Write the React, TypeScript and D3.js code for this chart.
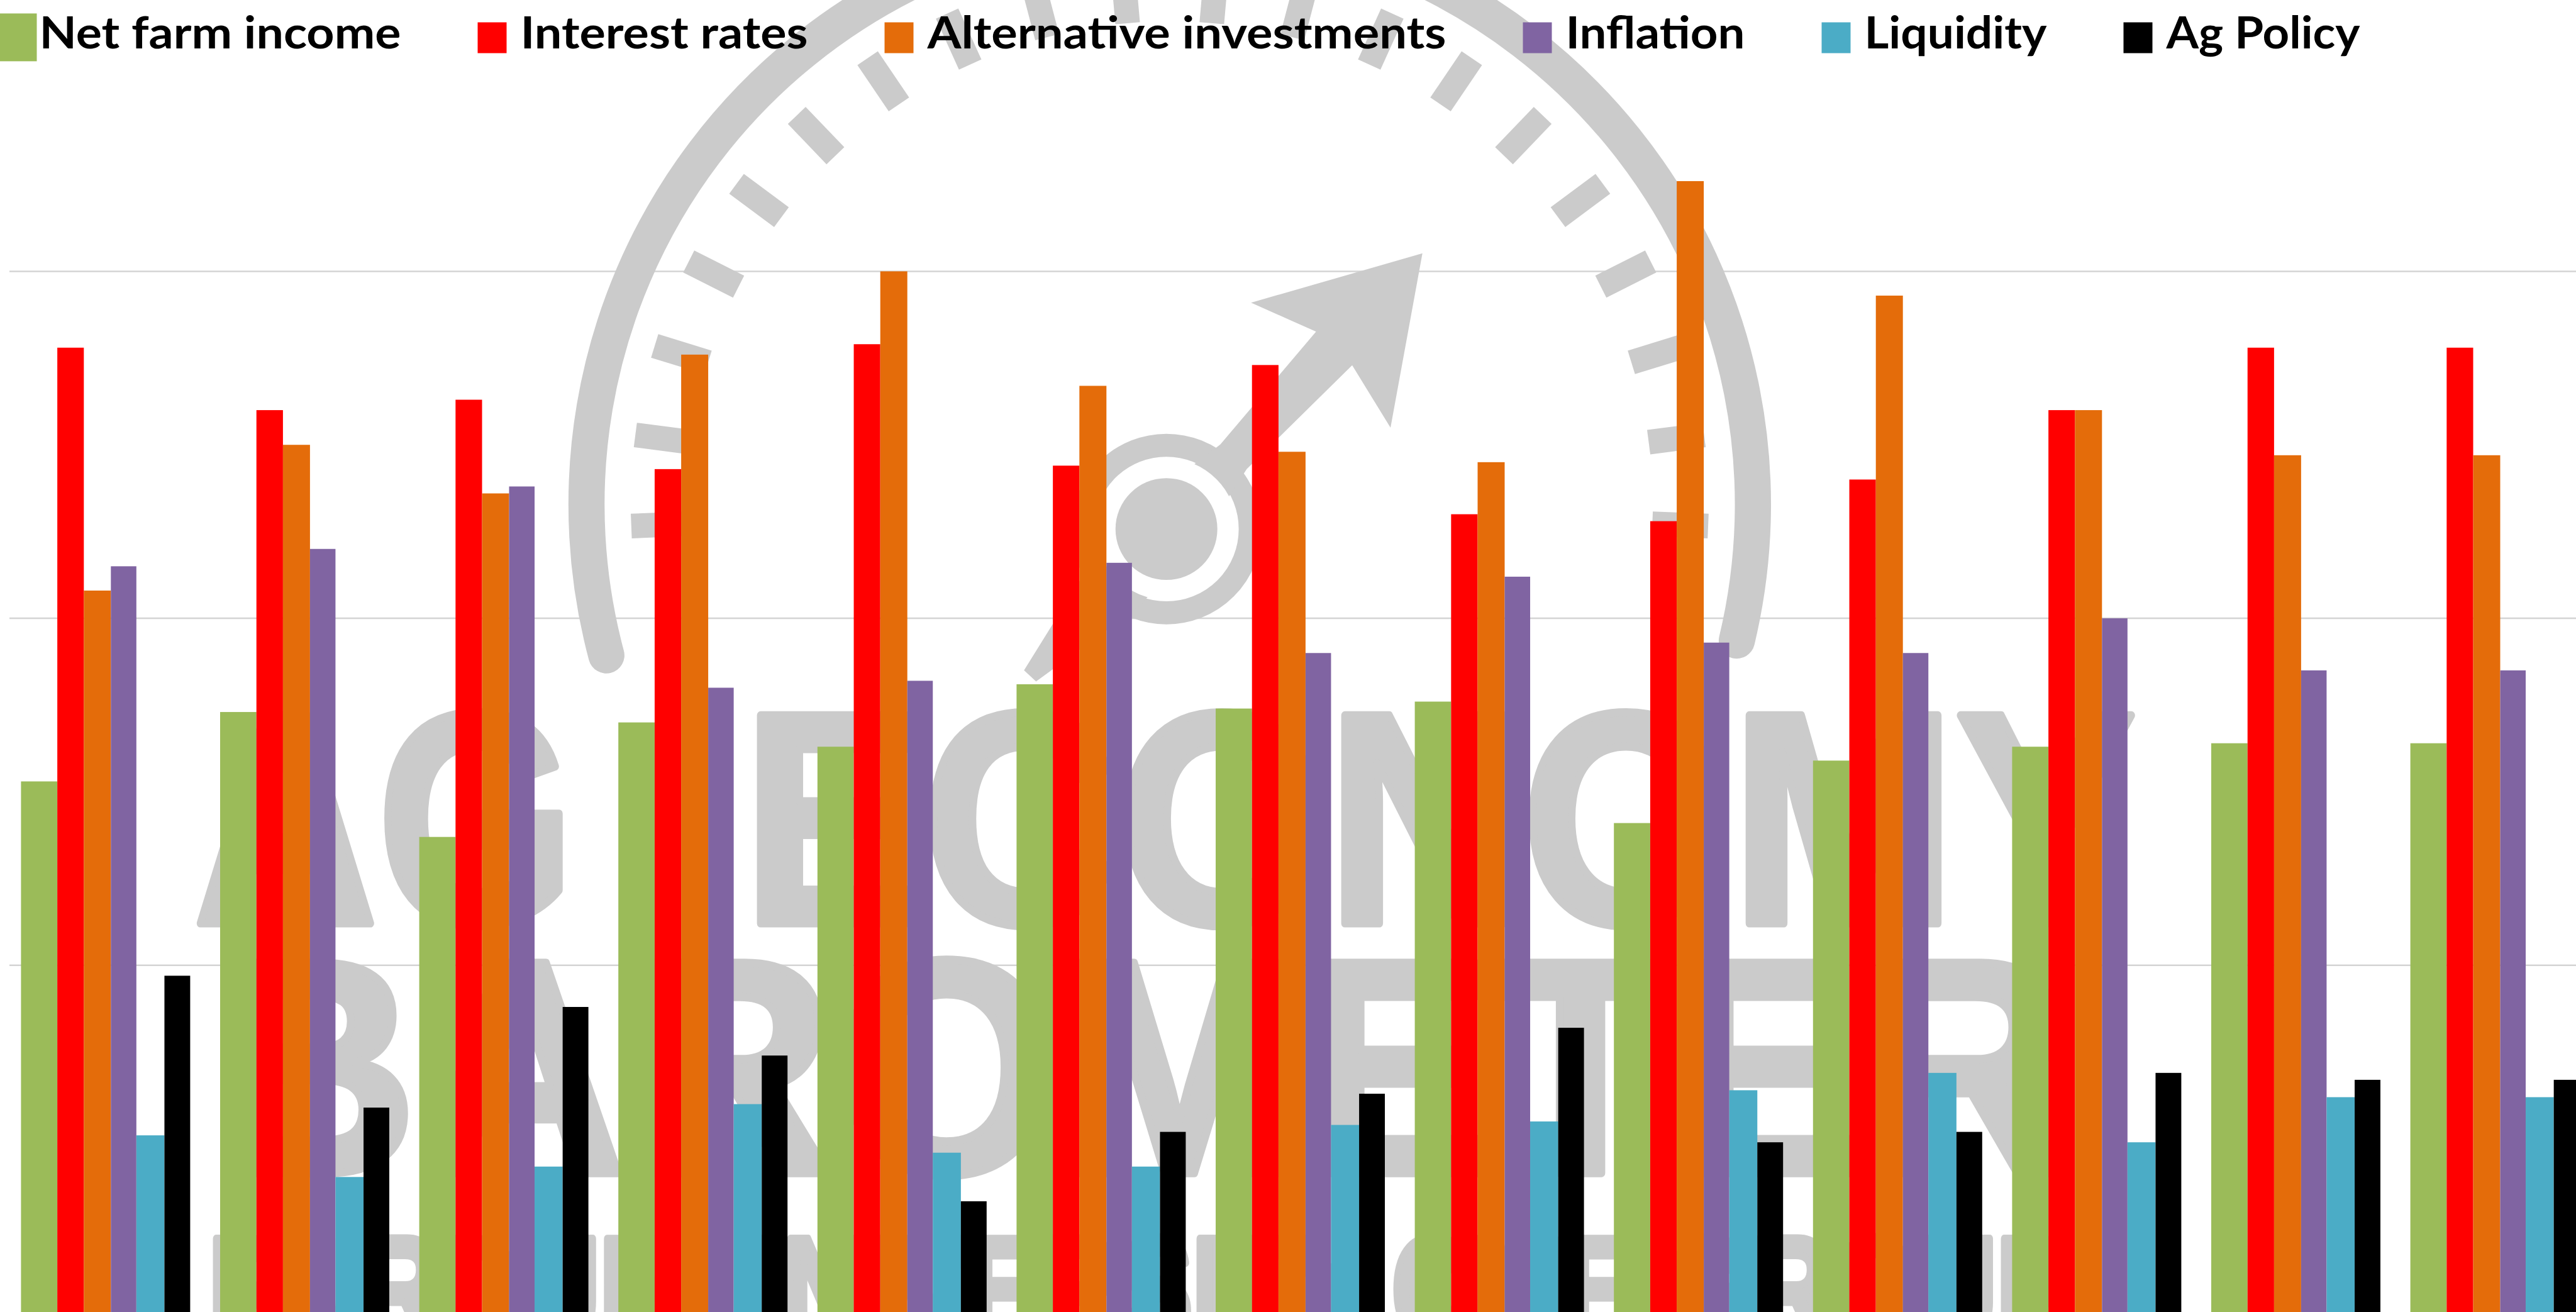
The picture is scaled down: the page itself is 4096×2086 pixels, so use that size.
import React from 'react';
import * as d3 from 'd3';

// Survey rounds along the category axis (the chart leaves them unlabelled)
const surveys = ['1', '2', '3', '4', '5', '6', '7', '8', '9', '10', '11', '12', '13'];

const seriesNames = [
  'Net farm income',
  'Interest rates',
  'Alternative investments',
  'Inflation',
  'Liquidity',
  'Ag Policy',
];

// Share of respondents (%) naming each factor
const netFarmIncome = [15.3, 17.3, 13.7, 17.0, 16.3, 18.1, 17.4, 17.6, 14.1, 15.9, 16.3, 16.4, 16.4];
const interestRates = [27.8, 26.0, 26.3, 24.3, 27.9, 24.4, 27.3, 23.0, 22.8, 24.0, 26.0, 27.8, 27.8];
const alternativeInvestments = [20.8, 25.0, 23.6, 27.6, 30.0, 26.7, 24.8, 24.5, 32.6, 29.3, 26.0, 24.7, 24.7];
const inflation = [21.5, 22.0, 23.8, 18.0, 18.2, 21.6, 19.0, 21.2, 19.3, 19.0, 20.0, 18.5, 18.5];
const liquidity = [5.1, 3.9, 4.2, 6.0, 4.6, 4.2, 5.4, 5.5, 6.4, 6.9, 4.9, 6.2, 6.2];
const agPolicy = [9.7, 5.9, 8.8, 7.4, 3.2, 5.2, 6.3, 8.2, 4.9, 5.2, 6.9, 6.7, 6.7];

const gridValues = [10, 20, 30];

// ---- styling / layout ----
const W = 4096;
const H = 2086;
const COLORS = ['#9BBB59', '#FF0000', '#E46C0A', '#8064A2', '#4BACC6', '#000000'];
const BAR_WEIGHTS = [1.41, 1.03, 1.05, 0.99, 1.09, 1.0];
const LEGEND_TEXT_WIDTHS = [575, 457, 825, 285, 290, 308];
const WM = '#cbcbcb';

function Watermark() {
  // logo drawn in a 1568-wide frame, scaled up to the page
  const k = W / 1568;
  const cx = 712;
  const cy = 307;
  const ring = d3.path();
  ring.arc(cx, cy, 355, (165 * Math.PI) / 180, (373.5 * Math.PI) / 180, false);

  const tickAngles: number[] = [];
  for (let i = 0; i < 10; i++) {
    tickAngles.push(5 + 9.7 * i);
    tickAngles.push(-(5 + 9.7 * i));
  }

  const hubX = 710;
  const hubY = 322;
  const needleAngle = (Math.atan2(154 - hubY, 866 - hubX) * 180) / Math.PI;
  const needle = [
    [229, 0],
    [136, -56],
    [150, -15],
    [60, -11],
    [20, -18],
    [-45, -20],
    [-122, -5],
    [-122, 5],
    [-45, 20],
    [20, 18],
    [60, 11],
    [150, 15],
    [138, 58],
  ]
    .map((p) => p.join(','))
    .join(' ');

  return (
    <g transform={`scale(${k})`} fill={WM}>
      <path d={ring.toString()} fill="none" stroke={WM} strokeWidth={22} strokeLinecap="round" />
      {tickAngles.map((a, i) => {
        const r = (a * Math.PI) / 180;
        const s = Math.sin(r);
        const c = Math.cos(r);
        return (
          <line
            key={i}
            x1={cx + 294 * s}
            y1={cy - 294 * c}
            x2={cx + 328 * s}
            y2={cy - 328 * c}
            stroke={WM}
            strokeWidth={15}
          />
        );
      })}
      <circle cx={hubX} cy={hubY} r={51} fill="none" stroke={WM} strokeWidth={14} />
      <polygon points={needle} transform={`translate(${hubX},${hubY}) rotate(${needleAngle})`} />
      <circle cx={hubX} cy={hubY} r={43} fill="#ffffff" />
      <circle cx={hubX} cy={hubY} r={31} />
      <g
        fontFamily="'Liberation Sans', Arial, sans-serif"
        fontWeight="bold"
        stroke={WM}
        strokeWidth={5}
        strokeLinejoin="round"
      >
        <text x={118} y={562} fontSize={184} textLength={232} lengthAdjust="spacingAndGlyphs">AG</text>
        <text x={452} y={562} fontSize={184} textLength={848} lengthAdjust="spacingAndGlyphs">ECONOMY</text>
        <text x={127} y={714} fontSize={186} textLength={1133} lengthAdjust="spacingAndGlyphs">BAROMETER</text>
        <text x={127} y={816} fontSize={90} textLength={1133} lengthAdjust="spacingAndGlyphs">PURDUE UNIVERSITY  CME GROUP</text>
      </g>
    </g>
  );
}

export default function App() {
  const seriesValues = [netFarmIncome, interestRates, alternativeInvestments, inflation, liquidity, agPolicy];

  const baseY = 2086.5;
  const y = d3.scaleLinear().domain([0, 10]).range([baseY, baseY - 551.7]);

  const groupStep = 316.6;
  const groupGap = 47.6;
  const left = 33.4;
  const x0 = d3
    .scaleBand<string>()
    .domain(surveys)
    .range([left, left + surveys.length * groupStep - groupGap])
    .paddingInner(groupGap / groupStep)
    .paddingOuter(0);

  const cum = BAR_WEIGHTS.reduce<number[]>((acc, w) => {
    acc.push(acc[acc.length - 1] + w);
    return acc;
  }, [0]);
  const inner = d3.scaleLinear().domain([0, cum[cum.length - 1]]).range([0, x0.bandwidth()]);

  // legend layout
  const legendGap = 190;
  const textStarts: number[] = [];
  let tx = 62.5;
  LEGEND_TEXT_WIDTHS.forEach((w) => {
    textStarts.push(tx);
    tx += w + legendGap;
  });

  return (
    <svg
      width={W}
      height={H}
      viewBox={`0 0 ${W} ${H}`}
      style={{ position: 'fixed', left: 0, top: 0, background: '#ffffff' }}
    >
      <rect x={0} y={0} width={W} height={H} fill="#ffffff" />
      {gridValues.map((v) => (
        <line key={v} x1={15} x2={W} y1={y(v)} y2={y(v)} stroke="#d4d4d4" strokeWidth={2.5} />
      ))}
      <Watermark />
      {surveys.map((s, i) => (
        <g key={s}>
          {seriesValues.map((vals, j) => {
            const bx = (x0(s) as number) + inner(cum[j]);
            const bw = inner(cum[j + 1]) - inner(cum[j]);
            return (
              <rect
                key={j}
                x={bx}
                width={bw}
                y={y(vals[i])}
                height={baseY - y(vals[i])}
                fill={COLORS[j]}
              />
            );
          })}
        </g>
      ))}
      <g fontFamily="Lato, 'Open Sans', sans-serif" fontWeight={700} fontSize={71} fill="#000000">
        {seriesNames.map((name, j) => {
          const t = textStarts[j];
          const isFirst = j === 0;
          return (
            <g key={name}>
              {isFirst ? (
                <rect x={0} y={21.4} width={58.5} height={76} fill={COLORS[j]} />
              ) : (
                <rect x={t - 22 - 46} y={35.5} width={46} height={49} fill={COLORS[j]} />
              )}
              <text x={t} y={77} textLength={LEGEND_TEXT_WIDTHS[j]} lengthAdjust="spacingAndGlyphs">
                {name}
              </text>
            </g>
          );
        })}
      </g>
    </svg>
  );
}
